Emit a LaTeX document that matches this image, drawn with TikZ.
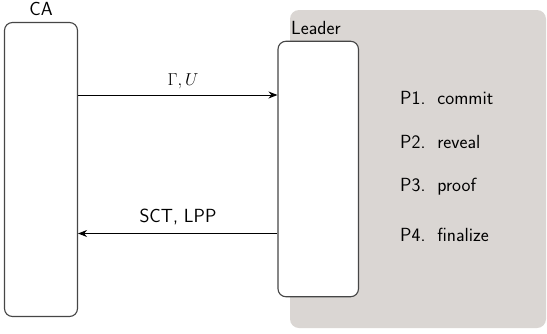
\documentclass[tikz,border=0pt]{standalone}
\usetikzlibrary{arrows.meta}
\definecolor{bggray}{RGB}{218,214,211}
\definecolor{boxline}{RGB}{70,70,70}
\begin{document}
\begin{tikzpicture}[x=1pt,y=-1pt,
  font=\sffamily\fontsize{19}{22}\selectfont,
  lane/.style={draw=boxline,line width=1.1pt,fill=white,rounded corners=8pt,inner sep=0pt},
  msg/.style={line width=1pt,-{Stealth[length=9pt,width=7pt]}},
  lbl/.style={inner sep=0pt,anchor=base},
  steplbl/.style={inner sep=0pt,anchor=base west}]
\useasboundingbox (0,0) rectangle (547,333);
\fill[bggray,rounded corners=9pt] (290,10) rectangle (546,328);
\node[lane,minimum width=73pt,minimum height=294pt] (ca) at (41,169.5) {};
\node[lane,minimum width=80.5pt,minimum height=255.5pt] (leader) at (318.25,169) {};
\node[lbl] (calbl) at (41,15) {CA};
\node[steplbl] (leaderlbl) at (291,34.7) {Leader};
\coordinate (a1s) at (ca.east |- 0,95);
\coordinate (a1e) at (leader.west |- 0,95);
\coordinate (a2s) at (leader.west |- 0,233.5);
\coordinate (a2e) at (ca.east |- 0,233.5);
\draw[msg] (a1s) -- (a1e);
\draw[msg] (a2s) -- (a2e);
\node[lbl,font=\fontsize{17.28}{20}\selectfont] (m1) at (183,85) {$\Gamma, U$};
\node[lbl] (m2) at (178,222.5) {SCT, LPP};
\node[steplbl] (p1) at (400,104) {P1.\ \ commit};
\node[steplbl] (p2) at (400,148) {P2.\ \ reveal};
\node[steplbl] (p3) at (400,191.5) {P3.\ \ proof};
\node[steplbl] (p4) at (400,241.5) {P4.\ \ finalize};
\end{tikzpicture}
\end{document}
